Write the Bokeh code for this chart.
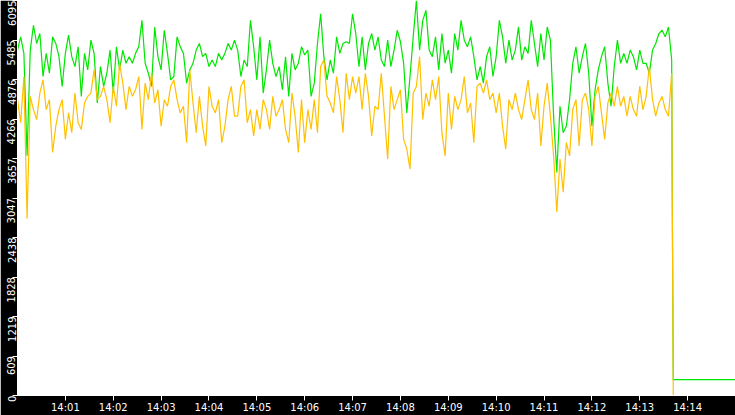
import math
from datetime import datetime, timedelta

from bokeh.models import DatetimeTickFormatter, FixedTicker, Range1d
from bokeh.plotting import figure
from bokeh.embed import file_html
from bokeh.resources import INLINE

# sample times, seconds after 14:00:00
seconds = list(range(0, 821, 4)) + [821, 822, 900]

green = [
    5330, 5534, 5279, 3698, 5330, 5713, 5432, 5585, 4922, 5279, 4973, 5534, 5432, 5228, 4769, 5279, 5560, 5228,
    5075, 5381, 4616, 5279, 5024, 5483, 5279, 4514, 5075, 4769, 4973, 5330, 4667, 5381, 5024, 5330, 5126,
    5228, 5126, 5279, 5381, 5789, 5126, 4973, 4769, 5687, 5228, 5024, 5636, 5279, 4871, 4922, 5534, 5381,
    5279, 4820, 5024, 5126, 5330, 5432, 5228, 5279, 5075, 5177, 5075, 5279, 5177, 5279, 5432, 5330, 5483,
    5330, 4922, 5177, 5075, 5789, 5381, 4871, 5534, 4667, 5024, 5483, 5126, 4922, 5075, 4718, 5228, 4616,
    5279, 5024, 5126, 5381, 5254, 5330, 4616, 4820, 5432, 5891, 5228, 4871, 5177, 4973, 5534, 5279, 5432, 5458,
    5432, 5891, 5585, 5075, 5534, 5024, 5432, 5585, 5330, 5534, 5177, 5075, 5483, 5075, 5330, 5636, 5458,
    5126, 4361, 4922, 5534, 6095, 5330, 5789, 5942, 5330, 5228, 5534, 5024, 5585, 5126, 5330, 4973, 5585,
    5330, 5789, 5483, 5381, 5534, 5228, 4871, 5075, 4820, 5228, 5381, 4922, 5228, 5789, 5534, 5126, 5483,
    5177, 5330, 5687, 5177, 5381, 5279, 5789, 5432, 5075, 5585, 5177, 5687, 5483, 4310, 3443, 4463, 4055,
    4157, 4565, 5126, 5381, 4973, 5228, 5432, 4973, 4157, 4718, 5024, 5228, 5381, 4820, 4463, 5075, 5483,
    5126, 5279, 5126, 5330, 5228, 5024, 5330, 5126, 5126, 4973, 5330, 5432, 5585, 5636, 5534, 5687, 5177,
    2430, 245, 245,
]

orange = [
    4565, 4208, 4922, 2729, 4616, 4412, 4259, 4667, 4871, 4412, 4565, 3749, 4157, 4412, 4565, 3953, 4361, 4055,
    4667, 4208, 4106, 4514, 4616, 4667, 5024, 4565, 4616, 4769, 4565, 4208, 4769, 4463, 5126, 4820, 4412,
    4769, 4616, 4718, 4922, 4106, 4820, 4565, 4973, 4514, 4718, 4157, 4565, 4463, 4769, 4871, 4565, 4361,
    4463, 3902, 5024, 4514, 4055, 4616, 4157, 3851, 4769, 4463, 4361, 4565, 3902, 4157, 4565, 4769, 4310,
    4310, 4769, 4871, 4208, 4412, 4004, 4412, 4106, 4565, 4412, 4106, 4616, 4310, 4412, 4565, 4106, 3902,
    4667, 4310, 3749, 4565, 3902, 4412, 4106, 4565, 4055, 5075, 5177, 4616, 4514, 4361, 4922, 4565, 4055, 4973,
    4565, 4922, 4667, 4922, 4412, 4973, 4616, 4004, 4463, 4412, 4973, 4310, 3647, 4769, 4412, 4565, 4718,
    3953, 3800, 3494, 4667, 4769, 5228, 4259, 4667, 4463, 4871, 4565, 4922, 4055, 3698, 4667, 4106, 4616,
    4412, 4565, 4922, 4361, 4514, 3902, 4769, 4820, 4667, 4871, 4565, 4667, 4361, 4667, 4157, 3800, 4565,
    4412, 4667, 4412, 4259, 4565, 4871, 4412, 4259, 4667, 3851, 4463, 4820, 4310, 3698, 2831, 3647, 3137,
    3902, 3698, 4412, 4565, 3851, 4565, 4667, 4412, 3851, 4616, 4769, 4361, 3953, 4514, 4667, 4463, 4769,
    4463, 4616, 4310, 4616, 4412, 4310, 4769, 4412, 4616, 5075, 4565, 4310, 4514, 4616, 4412, 4310, 4973,
    2450, 0, 0,
]

y_ticks = [0, 609, 1219, 1828, 2438, 3047, 3657, 4266, 4876, 5485, 6095]
x_minutes = list(range(1, 15))

start = datetime(2024, 1, 1, 14, 0, 0)
epoch = datetime(1970, 1, 1)
times = [start + timedelta(seconds=s) for s in seconds]
x_ticks = [(start + timedelta(minutes=m) - epoch).total_seconds() * 1000 for m in x_minutes]

p = figure(width=735, height=415, x_axis_type="datetime",
           x_range=Range1d(start, start + timedelta(minutes=15)), y_range=Range1d(0, 6095),
           output_backend="svg", toolbar_location=None, min_border=0,
           border_fill_color="black", background_fill_color="white", outline_line_color=None)
p.grid.visible = False

p.line(times, green, color="#00e600", line_width=1.2)
p.line(times, orange, color="#ffc000", line_width=1.2)

for ax in (p.xaxis[0], p.yaxis[0]):
    ax.axis_line_color = "white"
    ax.major_tick_line_color = "white"
    ax.minor_tick_line_color = None
    ax.major_tick_out = 5
    ax.major_tick_in = 0
    ax.major_label_text_color = "white"
    ax.major_label_text_font = "DejaVu Sans"
    ax.major_label_text_font_size = "10px"
    ax.major_label_standoff = 1

p.xaxis.ticker = FixedTicker(ticks=x_ticks)
p.xaxis.formatter = DatetimeTickFormatter(minutes="%H:%M", hourmin="%H:%M", hours="%H:%M", minsec="%H:%M")

p.yaxis.ticker = FixedTicker(ticks=y_ticks)
p.yaxis.major_label_orientation = math.pi / 2

open("out.html", "w").write(file_html(p, INLINE))
